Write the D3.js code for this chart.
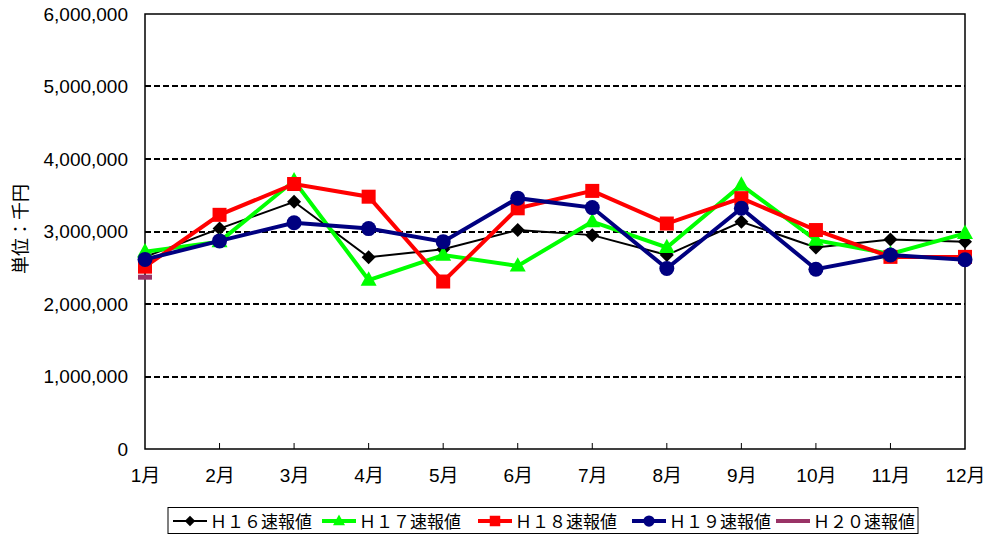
<!DOCTYPE html>
<html><head><meta charset="utf-8">
<script src="https://cdn.jsdelivr.net/npm/d3@7"></script>
<style>body{margin:0;background:#fff}svg{display:block}</style>
</head><body>
<svg id="c" width="990" height="538"></svg>
<script>
const months = ["1月","2月","3月","4月","5月","6月","7月","8月","9月","10月","11月","12月"];
const yTicks = [0,1000000,2000000,3000000,4000000,5000000,6000000];
const h16 = [2650000,3040000,3410000,2645000,2755000,3020000,2950000,2675000,3135000,2780000,2890000,2860000];
const h17 = [2720000,2860000,3700000,2330000,2675000,2525000,3135000,2780000,3640000,2880000,2690000,2975000];
const h18 = [2515000,3230000,3655000,3480000,2310000,3320000,3560000,3110000,3460000,3020000,2650000,2650000];
const h19 = [2615000,2870000,3120000,3040000,2860000,3460000,3330000,2490000,3320000,2480000,2675000,2610000];
const h20 = [2370000];
const seriesNames = ["Ｈ１６速報値","Ｈ１７速報値","Ｈ１８速報値","Ｈ１９速報値","Ｈ２０速報値"];

const series = [
  {name:seriesNames[0], values:h16, color:"#000000", width:2, marker:"diamond"},
  {name:seriesNames[1], values:h17, color:"#00ff00", width:4, marker:"triangle"},
  {name:seriesNames[2], values:h18, color:"#ff0000", width:4, marker:"square"},
  {name:seriesNames[3], values:h19, color:"#000080", width:4, marker:"circle"},
  {name:seriesNames[4], values:h20, color:"#993366", width:4, marker:"dash"}
];

const svg = d3.select("#c");
const L=145, R=965, T=14, B=449;
const x = d3.scalePoint().domain(months).range([L,R]).padding(0);
const y = d3.scaleLinear().domain([0,6000000]).range([B,T]);

// gridlines
svg.append("g").selectAll("line").data(yTicks.filter(d=>d>0 && d<6000000)).join("line")
  .attr("x1",L).attr("x2",R).attr("y1",d=>Math.round(y(d))).attr("y2",d=>Math.round(y(d)))
  .attr("stroke","#000").attr("stroke-width",2).attr("stroke-dasharray","6,3");

// frame
svg.append("rect").attr("x",L).attr("y",T).attr("width",R-L).attr("height",B-T)
  .attr("fill","none").attr("stroke","#000").attr("stroke-width",1.5);

// x ticks inward
svg.append("g").selectAll("line").data(months.slice(1,-1)).join("line")
  .attr("x1",d=>x(d)).attr("x2",d=>x(d)).attr("y1",B).attr("y2",B-6)
  .attr("stroke","#000").attr("stroke-width",1);

// y axis labels
const yAxis = d3.axisLeft(y).tickValues(yTicks).tickSize(0).tickPadding(17)
  .tickFormat(d3.format(","));
const gy = svg.append("g").attr("transform",`translate(${L},0)`).call(yAxis);
gy.select(".domain").remove();
gy.selectAll("text").attr("font-family","Liberation Sans, Arial, sans-serif").attr("font-size",19).attr("fill","#000");

// x axis labels
const xAxis = d3.axisBottom(x).tickSize(0).tickPadding(20);
const gx = svg.append("g").attr("transform",`translate(0,${B})`).call(xAxis);
gx.select(".domain").remove();
gx.selectAll("text").attr("font-family","Liberation Sans, Arial, 'Noto Sans CJK JP', sans-serif").attr("font-size",19).attr("fill","#000");

// y title
svg.append("text").attr("transform","translate(27,229) rotate(-90)")
  .attr("text-anchor","middle").attr("font-family","Noto Sans CJK JP, sans-serif")
  .attr("font-size",18).text("単位：千円");

function drawMarker(g, type, cx, cy, color, scale){
  const s = scale||1;
  if(type==="diamond"){
    const r=7*s;
    g.append("path").attr("d",`M${cx},${cy-r}L${cx+r},${cy}L${cx},${cy+r}L${cx-r},${cy}Z`).attr("fill",color);
  } else if(type==="triangle"){
    const r=8*s;
    g.append("path").attr("d",`M${cx},${cy-r*1.1}L${cx+r},${cy+r*0.7}L${cx-r},${cy+r*0.7}Z`).attr("fill",color);
  } else if(type==="square"){
    const r=7*s;
    g.append("rect").attr("x",cx-r).attr("y",cy-r).attr("width",2*r).attr("height",2*r).attr("fill",color);
  } else if(type==="circle"){
    g.append("circle").attr("cx",cx).attr("cy",cy).attr("r",7.5*s).attr("fill",color);
  } else if(type==="dash"){
    g.append("rect").attr("x",cx-7).attr("y",cy-2.5).attr("width",14).attr("height",5).attr("fill",color);
  }
}

const line = d3.line().x((d,i)=>x(months[i])).y(d=>y(d));
series.forEach(s=>{
  const g = svg.append("g");
  g.append("path").attr("d",line(s.values)).attr("fill","none")
    .attr("stroke",s.color).attr("stroke-width",s.width).attr("stroke-linejoin","miter");
  s.values.forEach((v,i)=>drawMarker(g,s.marker,x(months[i]),y(v),s.color));
});

// legend
const lg = svg.append("g");
lg.append("rect").attr("x",168).attr("y",507.5).attr("width",750).attr("height",26)
  .attr("fill","#fff").attr("stroke","#000").attr("stroke-width",1);
const itemX = [173,322,478,632,776];
series.forEach((s,i)=>{
  const x0=itemX[i], yc=521;
  lg.append("line").attr("x1",x0).attr("x2",x0+34).attr("y1",yc).attr("y2",yc)
    .attr("stroke",s.color).attr("stroke-width",s.width);
  if(s.marker!=="dash") drawMarker(lg,s.marker,x0+17,yc,s.color,0.75);
  lg.append("text").attr("x",x0+37).attr("y",yc+6.5).attr("font-family","Noto Sans CJK JP, sans-serif")
    .attr("font-size",17).text(s.name);
});
</script>
</body></html>
